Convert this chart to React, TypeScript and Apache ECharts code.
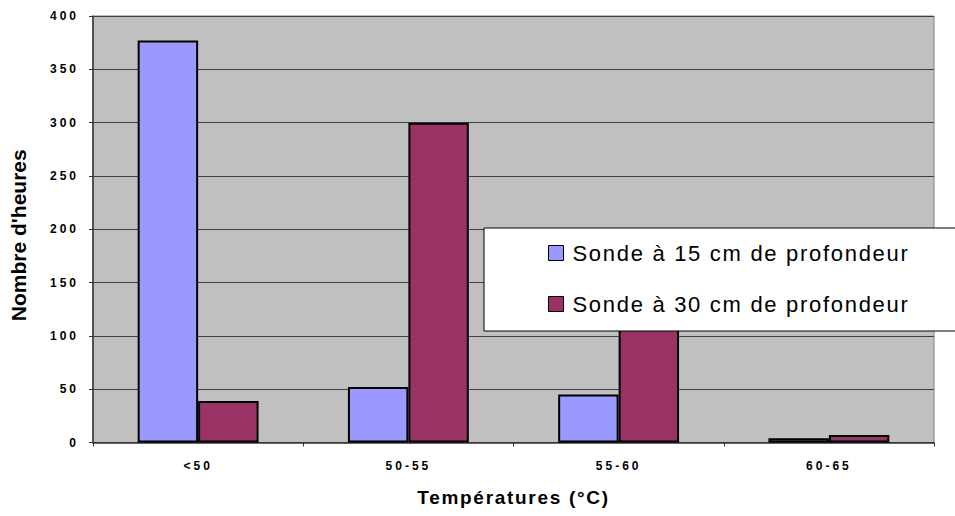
import React, { useEffect, useRef } from "react";
import * as echarts from "echarts";

// Temperature classes and hours recorded by each probe
const categories = ["<50", "50-55", "55-60", "60-65"];
const probe15cm = [377, 52, 45, 4];
const probe30cm = [39, 300, 140, 7];
const seriesNames = ["Sonde à 15 cm de profondeur", "Sonde à 30 cm de profondeur"];
const yTicks = { min: 0, max: 400, interval: 50 };

const FONT = "'Liberation Sans', Arial, sans-serif";

export default function App() {
  const ref = useRef<HTMLDivElement>(null);

  useEffect(() => {
    if (!ref.current) return;
    const chart = echarts.init(ref.current, undefined, { renderer: "svg" });
    const barStyle = (color: string) => ({ color, borderColor: "#000", borderWidth: 2 });

    chart.setOption({
      animation: false,
      backgroundColor: "#ffffff",
      textStyle: { fontFamily: FONT },
      grid: {
        left: 91,
        right: 21,
        top: 16,
        bottom: 73.5,
        show: true,
        backgroundColor: "#c0c0c0",
        borderColor: "#808080",
        borderWidth: 1,
      },
      legend: {
        orient: "vertical",
        left: 484,
        top: 228,
        padding: [14, 200, 16, 64],
        itemWidth: 15,
        itemHeight: 15,
        itemGap: 29,
        backgroundColor: "#ffffff",
        borderColor: "#000",
        borderWidth: 1,
        borderRadius: 0,
        icon: "rect",
        itemStyle: { borderColor: "#000", borderWidth: 1 },
        textStyle: {
          fontFamily: FONT,
          fontSize: 22,
          color: "#000",
          lineHeight: 15,
          padding: [0, 0, 0, 4],
        },
        data: seriesNames,
      },
      xAxis: {
        type: "category",
        data: categories,
        name: "Températures (°C)",
        nameLocation: "middle",
        nameGap: 45,
        nameTextStyle: { fontFamily: FONT, fontSize: 19, fontWeight: "bold", color: "#000" },
        axisLine: { lineStyle: { color: "#333", width: 1.5 } },
        axisTick: { show: true, length: 4, lineStyle: { color: "#333" } },
        axisLabel: { fontFamily: FONT, fontSize: 12, fontWeight: "bold", color: "#000", margin: 17 },
      },
      yAxis: {
        type: "value",
        min: yTicks.min,
        max: yTicks.max,
        interval: yTicks.interval,
        name: "Nombre d'heures",
        nameLocation: "middle",
        nameGap: 64,
        nameRotate: 90,
        nameTextStyle: {
          fontFamily: FONT,
          fontSize: 21,
          fontWeight: "bold",
          color: "#000",
          padding: [0, 12, 0, 0],
        },
        axisLine: { show: true, lineStyle: { color: "#333", width: 1.5 } },
        axisTick: { show: true, length: 4, lineStyle: { color: "#333" } },
        axisLabel: { fontFamily: FONT, fontSize: 12, fontWeight: "bold", color: "#000", margin: 14 },
        splitLine: { show: true, lineStyle: { color: "#404040", width: 1 } },
      },
      series: [
        {
          name: seriesNames[0],
          type: "bar",
          data: probe15cm,
          barGap: "0%",
          barCategoryGap: "42.5%",
          itemStyle: barStyle("#9999ff"),
        },
        {
          name: seriesNames[1],
          type: "bar",
          data: probe30cm,
          barGap: "0%",
          barCategoryGap: "42.5%",
          itemStyle: barStyle("#993366"),
        },
      ],
    });

    return () => chart.dispose();
  }, []);

  return (
    <>
      <style>{`
        body { margin: 0; }
        .temp-chart text[style*="12px"] { letter-spacing: 3px; }
        .temp-chart text[style*="19px"] { letter-spacing: 1.7px; }
        .temp-chart text[style*="22px"] { letter-spacing: 1.7px; }
      `}</style>
      <div
        ref={ref}
        className="temp-chart"
        style={{ position: "absolute", left: 0, top: 0, width: 955, height: 516 }}
      />
    </>
  );
}
